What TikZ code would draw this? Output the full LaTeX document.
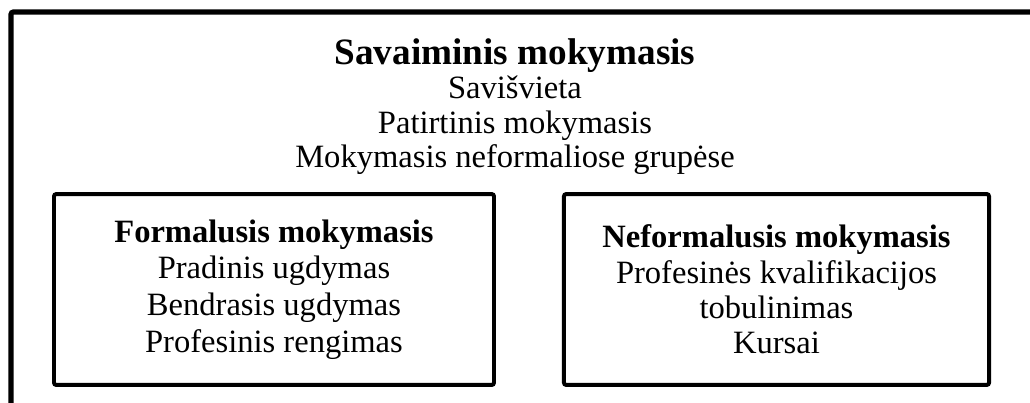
\documentclass[tikz,border=0pt]{standalone}
\usepackage{fontspec}
\setmainfont{Liberation Serif}
\usetikzlibrary{positioning,calc}

\begin{document}
\begin{tikzpicture}[
  x=0.43pt, y=-0.43pt,
  frame/.style={line width=2.2pt, rounded corners=1pt},
  kindbox/.style={draw, line width=1.7pt, rounded corners=1pt, align=center,
                  font=\fontsize{14}{15.2}\selectfont, inner sep=0pt,
                  minimum height=82.1pt},
  maintext/.style={align=center, font=\fontsize{14}{14.8}\selectfont,
                   inner sep=0pt}
]
\useasboundingbox (0,0) rectangle (1030,403);
\clip (0,0) rectangle (1030,403);

% Outer frame (cut at the right and at the bottom)
\coordinate (framebot) at (11,420);
\coordinate (framecorner) at (11,12);
\coordinate (frameright) at (1045,12);
\draw[frame] (framebot) -- (framecorner) -- (frameright);

% Self-directed learning
\node[maintext, anchor=north] (selflearn) at (515,38)
  {{\fontsize{16}{15.8}\selectfont\bfseries Savaiminis mokymasis}\\
   Savišvieta\\
   Patirtinis mokymasis\\
   Mokymasis neformaliose grupėse};

% Formal and non-formal learning
\node[kindbox, minimum width=189.2pt, font=\fontsize{14}{15.8}\selectfont]
  (formal) at (274,289.5)
  {\textbf{Formalusis mokymasis}\\
   Pradinis ugdymas\\
   Bendrasis ugdymas\\
   Profesinis rengimas};
\node[kindbox, minimum width=182.8pt] (nonformal) at (776.5,289.5)
  {\textbf{Neformalusis mokymasis}\\
   Profesinės kvalifikacijos\\
   tobulinimas\\
   Kursai};

\end{tikzpicture}
\end{document}
